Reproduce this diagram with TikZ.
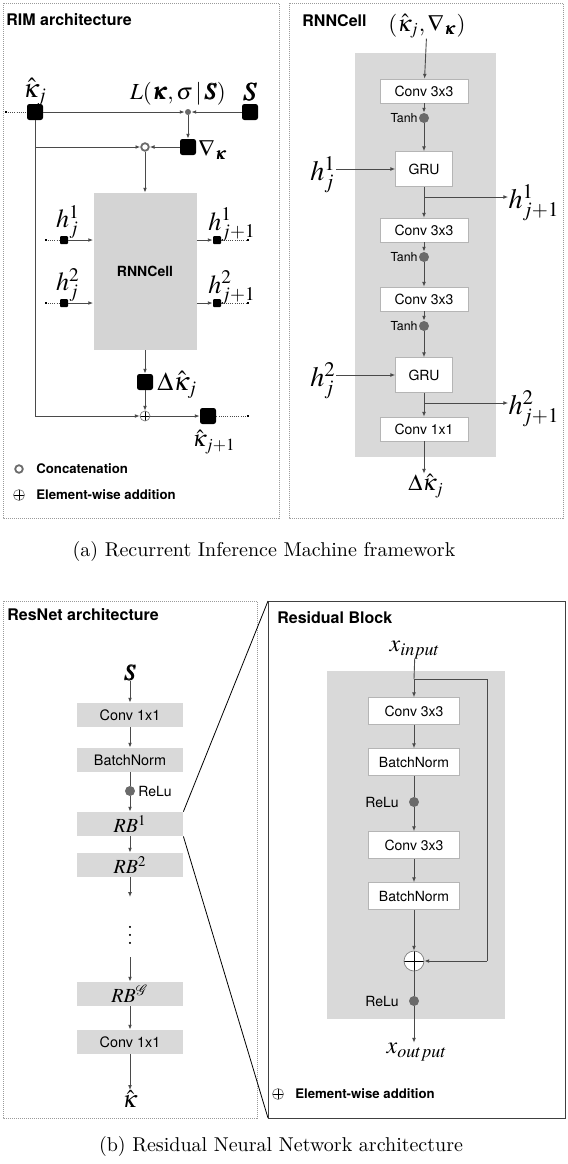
\documentclass[tikz,border=0pt]{standalone}
\usepackage{amsmath}
\usepackage[no-math]{fontspec}
\usepackage{mathptmx}
\usepackage{bm}
\setsansfont{TeX Gyre Heros}
\renewcommand{\rmdefault}{lmr}
\usetikzlibrary{arrows.meta}
\definecolor{linec}{HTML}{4A4A4A}
\definecolor{panelc}{HTML}{9A9A9A}
\definecolor{dotc}{HTML}{6A6A6A}
\definecolor{colc}{HTML}{D9D9D9}
\definecolor{rnnc}{HTML}{D4D4D4}
\definecolor{gfill}{HTML}{D9D9D9}
\definecolor{boxb}{HTML}{B5B5B5}
\begin{document}
\begin{tikzpicture}[x=0.5pt,y=-0.5pt,
  ln/.style={draw=linec, line width=0.45pt},
  arr/.style={ln, -{Latex[length=2.4pt,width=1.9pt]}},
  dotl/.style={draw=linec, line width=0.45pt, dash pattern=on 0.5pt off 0.6pt},
  panel/.style={draw=panelc, line width=0.4pt, dash pattern=on 0.5pt off 0.5pt},
  ttl/.style={font=\sffamily\bfseries\fontsize{8}{9}\selectfont, anchor=west, inner sep=0pt},
  leg/.style={font=\sffamily\bfseries\fontsize{6.6}{8}\selectfont, anchor=west, inner sep=0pt},
  lbl/.style={font=\sffamily\fontsize{7}{8}\selectfont, inner sep=0pt},
  bsq/.style={fill=black, rounded corners=1.2pt, minimum size=8pt, inner sep=0pt},
  ssq/.style={fill=black, rounded corners=0.5pt, minimum size=4pt, inner sep=0pt},
  tip/.style={fill=black, minimum size=1.3pt, inner sep=0pt},
  gdot/.style={circle, fill=dotc, minimum size=3pt, inner sep=0pt},
  bdot/.style={circle, fill=dotc, minimum size=5pt, inner sep=0pt},
  cat/.style={circle, draw=dotc, line width=0.9pt, minimum size=3.8pt, inner sep=0pt},
  plus/.style={circle, draw=gray, fill=white, line width=0.35pt, inner sep=0pt,
    path picture={\draw[black, line width=0.35pt]
      (path picture bounding box.north) -- (path picture bounding box.south)
      (path picture bounding box.west) -- (path picture bounding box.east);}},
  wbox/.style={fill=white, draw=boxb, line width=0.3pt, inner sep=0pt, font=\sffamily\fontsize{7}{8}\selectfont},
  gbox/.style={fill=gfill, inner sep=0pt, minimum width=53pt, minimum height=12pt, font=\sffamily\fontsize{7.2}{8}\selectfont},
  m/.style={inner sep=0pt, font=\fontsize{11.5}{13}\selectfont},
  mh/.style={inner sep=0pt, font=\fontsize{13}{15}\selectfont},
  mm/.style={inner sep=0pt, font=\fontsize{14}{16}\selectfont},
  ms/.style={inner sep=0pt, font=\fontsize{11}{13}\selectfont},
  captext/.style={inner sep=0pt, font=\rmfamily\fontsize{10}{12}\selectfont}
]
\useasboundingbox (0,0) rectangle (568,1164);

%================ RIM architecture ================
\draw[panel] (3,3) rectangle (279,518);
\node[ttl] (t1) at (6,20) {RIM architecture};
\node[tip] (kin) at (6,112) {};
\node[bsq] (kj) at (35,112) {};
\node[mh] (kjl) at (35,92) {$\hat\kappa_j$};
\node[gdot] (L) at (188,112) {};
\node[m] (Ll) at (178,94) {$L(\bm\kappa,\sigma\,|\,\bm S)$};
\node[bsq] (S) at (250,112) {};
\node[mh] (Sl) at (250,92) {$\bm S$};
\draw[dotl] (kin) -- (kj);
\draw[arr] (kj) -- (L);
\draw[arr] (S) -- (L);
\node[bsq] (g) at (188,147) {};
\node[m, anchor=west] (gl) at (198,150) {$\nabla_{\bm\kappa}$};
\draw[arr] (L) -- (g);
\node[cat] (cc) at (145,147) {};
\draw[arr] (g) -- (cc);
\coordinate (ca) at (35,147);
\draw[arr] (ca) -- (cc);
\node[fill=rnnc, minimum width=51.5pt, minimum height=78.5pt, inner sep=0pt,
      font=\sffamily\bfseries\fontsize{7}{8}\selectfont] (rnn) at (145,271.5) {RNNCell};
\draw[arr] (cc) -- (rnn.north);

\node[tip] (h1a) at (46,240) {};
\node[ssq] (h1b) at (64,240) {};
\draw[dotl] (h1a) -- (h1b);
\draw[arr] (h1b) -- (h1b -| rnn.west);
\node[mh] (h1l) at (68,222) {$h_j^1$};
\node[ssq] (h1c) at (217,240) {};
\node[tip] (h1d) at (248,240) {};
\draw[arr] (h1c -| rnn.east) -- (h1c);
\draw[dotl] (h1c) -- (h1d);
\node[mh] (h1r) at (232,225) {$h_{j+1}^1$};

\node[tip] (h2a) at (46,303) {};
\node[ssq] (h2b) at (64,303) {};
\draw[dotl] (h2a) -- (h2b);
\draw[arr] (h2b) -- (h2b -| rnn.west);
\node[mh] (h2l) at (68,285) {$h_j^2$};
\node[ssq] (h2c) at (217,303) {};
\node[tip] (h2d) at (248,303) {};
\draw[arr] (h2c -| rnn.east) -- (h2c);
\draw[dotl] (h2c) -- (h2d);
\node[mh] (h2r) at (232,288) {$h_{j+1}^2$};

\node[bsq] (dk) at (145,382) {};
\node[mh, anchor=west] (dkl) at (157,385) {$\Delta\hat\kappa_j$};
\draw[arr] (rnn.south) -- (dk);
\node[plus, minimum size=5pt] (add) at (145,416) {};
\draw[arr] (dk) -- (add);
\coordinate (cb) at (35,416);
\draw[ln] (kj) -- (cb);
\draw[arr] (cb) -- (add);
\node[bsq] (kj1) at (208,416) {};
\node[tip] (kend) at (248,416) {};
\draw[arr] (add) -- (kj1);
\draw[dotl] (kj1) -- (kend);
\node[m] (kj1l) at (214,442) {$\hat\kappa_{j+1}$};

\node[cat] (lc) at (19,469) {};
\node[leg] (lct) at (36,469) {Concatenation};
\node[plus, minimum size=5.5pt] (la) at (19,495) {};
\node[leg] (lat) at (36,495) {Element-wise addition};

%================ RNNCell ================
\draw[panel] (289,3) rectangle (563,518);
\node[ttl] (t2) at (302,21) {RNNCell};
\fill[colc] (355,53) rectangle (496,457);
\node[m] (in) at (427,26) {$(\hat\kappa_j,\nabla_{\bm\kappa})$};
\node[wbox, minimum width=44pt, minimum height=12pt] (rc1) at (424,91) {Conv 3x3};
\node[bdot] (td1) at (424,118) {};
\node[lbl, anchor=east, font=\sffamily\fontsize{6.2}{7}\selectfont] (tl1) at (418,118) {Tanh};
\node[wbox, minimum width=28.5pt, minimum height=17.5pt] (gru1) at (424,169) {GRU};
\draw[arr] (in) -- (rc1);
\draw[arr] (rc1) -- (td1);
\draw[arr] (td1) -- (gru1);
\node[mm] (hj1) at (323,175) {$h_j^1$};
\draw[arr] (hj1.east |- gru1) -- (gru1);
\coordinate (b1) at (424,197);
\node[mm] (ho1) at (534,203) {$h_{j+1}^1$};
\node[wbox, minimum width=44pt, minimum height=12pt] (rc2) at (424,230) {Conv 3x3};
\draw[ln] (gru1) -- (b1);
\draw[arr] (b1) -- (rc2);
\draw[arr] (b1) -- (ho1.west |- b1);
\node[bdot] (td2) at (424,257) {};
\node[lbl, anchor=east, font=\sffamily\fontsize{6.2}{7}\selectfont] (tl2) at (418,257) {Tanh};
\node[wbox, minimum width=44pt, minimum height=12pt] (rc3) at (424,299) {Conv 3x3};
\draw[arr] (rc2) -- (td2);
\draw[arr] (td2) -- (rc3);
\node[bdot] (td3) at (424,326) {};
\node[lbl, anchor=east, font=\sffamily\fontsize{6.2}{7}\selectfont] (tl3) at (418,326) {Tanh};
\node[wbox, minimum width=28.5pt, minimum height=17.5pt] (gru2) at (424,375) {GRU};
\draw[arr] (rc3) -- (td3);
\draw[arr] (td3) -- (gru2);
\node[mm] (hj2) at (323,381) {$h_j^2$};
\draw[arr] (hj2.east |- gru2) -- (gru2);
\coordinate (b2) at (424,403);
\node[mm] (ho2) at (534,409) {$h_{j+1}^2$};
\node[wbox, minimum width=44pt, minimum height=12pt] (rc4) at (424,429) {Conv 1x1};
\draw[ln] (gru2) -- (b2);
\draw[arr] (b2) -- (rc4);
\draw[arr] (b2) -- (ho2.west |- b2);
\node[m] (dout) at (426,486) {$\Delta\hat\kappa_j$};
\draw[arr] (rc4) -- (rc4 |- dout.north);

%================ captions ================
\node[captext] (capa) at (264,551) {(a) Recurrent Inference Machine framework};
\node[captext] (capb) at (281,1146) {(b) Residual Neural Network architecture};

%================ ResNet architecture ================
\draw[panel] (3,601) rectangle (257,1118);
\node[ttl] (t3) at (7,615) {ResNet architecture};
\node[ms] (sin) at (130,673) {$\bm S$};
\node[gbox] (n1) at (130,715) {Conv 1x1};
\node[gbox] (n2) at (130,760) {BatchNorm};
\node[bdot] (nd) at (130,791) {};
\node[lbl, anchor=west, font=\sffamily\fontsize{7}{8}\selectfont] (ndl) at (138,791) {ReLu};
\node[gbox, font=\fontsize{10}{12}\selectfont] (rb1) at (130,824) {$RB^1$};
\node[gbox, font=\fontsize{10}{12}\selectfont] (rb2) at (130,865) {$RB^2$};
\coordinate (e1) at (130,897);
\node[inner sep=0pt, font=\fontsize{11}{13}\selectfont] (vd) at (130,929) {$\vdots$};
\coordinate (e2) at (130,957);
\node[gbox, font=\fontsize{10}{12}\selectfont] (rbg) at (130,994) {$RB^{\mathcal{G}}$};
\node[gbox] (n3) at (130,1042) {Conv 1x1};
\node[ms, font=\fontsize{12}{14}\selectfont] (kout) at (130,1099) {$\hat\kappa$};
\draw[arr] (sin) -- (n1);
\draw[arr] (n1) -- (n2);
\draw[ln] (n2) -- (nd);
\draw[arr] (nd) -- (rb1);
\draw[arr] (rb1) -- (rb2);
\draw[arr] (rb2) -- (e1);
\draw[arr] (e2) -- (rbg);
\draw[arr] (rbg) -- (n3);
\draw[arr] (n3) -- (kout);

%================ Residual Block ================
\draw[draw=black!75, line width=0.5pt] (268,601) rectangle (565,1118);
\coordinate (zt) at (268,601);
\coordinate (zb) at (268,1118);
\draw[black, line width=0.4pt] (rb1.north east) -- (zt);
\draw[black, line width=0.4pt] (rb1.south east) -- (zb);
\node[ttl] (t4) at (277,618) {Residual Block};
\fill[colc] (327,671) rectangle (505,1019);
\node[ms, font=\fontsize{12}{14}\selectfont] (xin) at (415,650) {$x_{input}$};
\coordinate (s1) at (414,679);
\node[wbox, minimum width=45.5pt, minimum height=13.5pt] (r1) at (414,711) {Conv 3x3};
\node[wbox, minimum width=45.5pt, minimum height=13.5pt] (r2) at (414,762) {BatchNorm};
\node[bdot] (rd1) at (414,802) {};
\node[lbl, anchor=east] (rl1) at (399,802) {ReLu};
\node[wbox, minimum width=45.5pt, minimum height=13.5pt] (r3) at (414,845) {Conv 3x3};
\node[wbox, minimum width=45.5pt, minimum height=13.5pt] (r4) at (414,896) {BatchNorm};
\node[plus, minimum size=10pt] (rp) at (414,961) {};
\node[bdot] (rd2) at (414,1001) {};
\node[lbl, anchor=east] (rl2) at (399,1001) {ReLu};
\node[ms, font=\fontsize{12}{14}\selectfont] (xout) at (417,1052) {$x_{output}$};
\coordinate (s2) at (487,679);
\coordinate (s3) at (487,961);
\draw[ln] (xin) -- (s1);
\draw[arr] (s1) -- (r1);
\draw[ln] (s1) -- (s2) -- (s3);
\draw[arr] (s3) -- (rp);
\draw[arr] (r1) -- (r2);
\draw[ln] (r2) -- (rd1);
\draw[arr] (rd1) -- (r3);
\draw[arr] (r3) -- (r4);
\draw[arr] (r4) -- (rp);
\draw[ln] (rp) -- (rd2);
\draw[arr] (rd2) -- (rd2 |- xout.north);
\node[plus, minimum size=5.5pt] (lp) at (278,1094) {};
\node[leg] (lpt) at (295,1094) {Element-wise addition};
\end{tikzpicture}
\end{document}
